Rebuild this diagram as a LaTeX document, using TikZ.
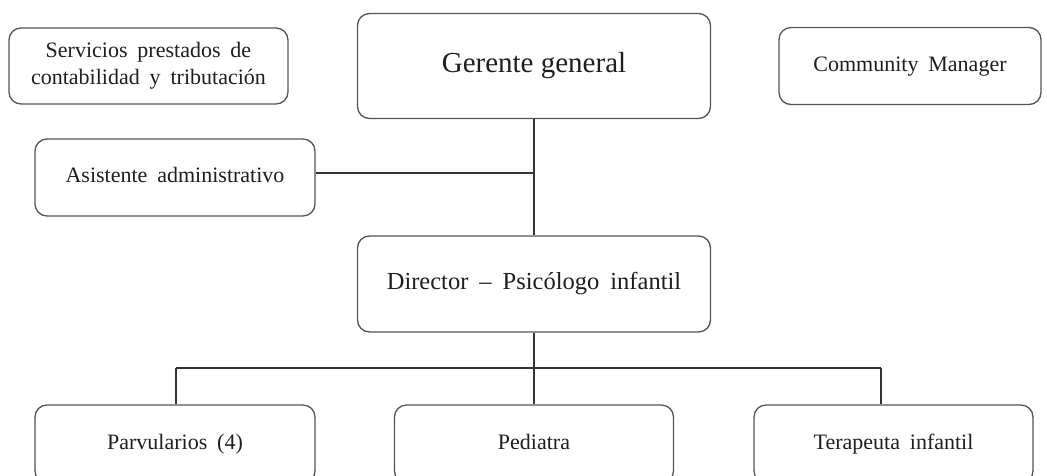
\documentclass[tikz,border=0pt]{standalone}
\usepackage{fontspec}
\setmainfont{Liberation Serif}
\newcommand{\mywidesp}{\spaceskip=0.45em plus 0.1em\relax}
\begin{document}
\begin{tikzpicture}[x=1pt,y=-1pt,
  box/.style={draw=boxgray, line width=1.3pt, rounded corners=12pt, text=txtgray,
    align=center, inner sep=0pt, font=\fontsize{22}{27}\selectfont\mywidesp},
  oneline/.style={text height=15pt, text depth=5pt},
  conn/.style={draw=linegray, line width=1.8pt}]
\definecolor{boxgray}{HTML}{555555}
\definecolor{linegray}{HTML}{333333}
\definecolor{txtgray}{HTML}{1E1E1E}
\useasboundingbox (0,0) rectangle (1047,475);
\clip (0,0) rectangle (1047,475);
% top row
\node[box, minimum width=279pt, minimum height=76pt] (serv) at (148.5,66) {Servicios prestados de\\contabilidad y tributación};
\node[box, oneline, minimum width=353pt, minimum height=105pt, font=\fontsize{29}{34}\selectfont, text height=20pt, text depth=7pt] (ger) at (534,66) {Gerente general};
\node[box, oneline, minimum width=262pt, minimum height=77pt] (comm) at (910,66) {Community Manager};
% middle
\node[box, oneline, minimum width=280pt, minimum height=77pt] (asis) at (175,177.5) {Asistente administrativo};
\node[box, minimum width=353pt, minimum height=96pt, font=\fontsize{24.5}{29}\selectfont\mywidesp, text height=17pt, text depth=6pt] (dir) at (534,284) {Director -- Psicólogo infantil};
% bottom
\node[box, oneline, minimum width=280pt, minimum height=78pt] (parv) at (175,444) {Parvularios (4)};
\node[box, oneline, minimum width=279pt, minimum height=78pt] (ped) at (534,444) {Pediatra};
\node[box, oneline, minimum width=279pt, minimum height=78pt] (ter) at (893.5,444) {Terapeuta infantil};
% connectors
\coordinate (busL) at (176,368);
\coordinate (busR) at (881,368);
\draw[conn] (ger.south) -- (dir.north);
\draw[conn] ([yshift=4.5pt]asis.east) -- ([yshift=4.5pt]asis.east -| ger.south);
\draw[conn] (dir.south) -- (ped.north);
\draw[conn] (busL) -- (busR);
\draw[conn] (busL) -- (busL |- parv.north);
\draw[conn] (busR) -- (busR |- ter.north);
\end{tikzpicture}
\end{document}
